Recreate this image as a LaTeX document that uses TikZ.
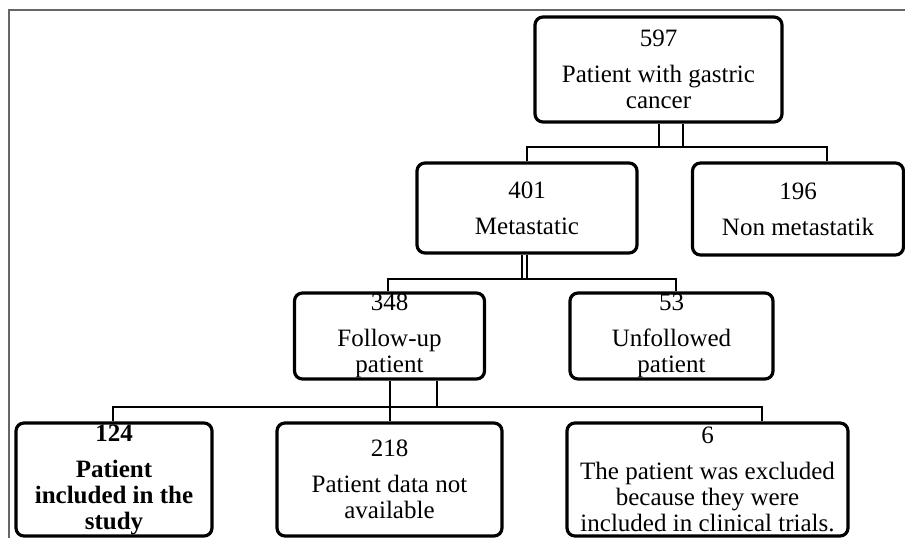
\documentclass[tikz,border=0pt]{standalone}
\usepackage{fontspec}
\setmainfont{Liberation Serif}
\usetikzlibrary{positioning,calc}
\tikzset{
frame line/.style={line width=1pt, color=black!60},
box/.style={draw, line width=1.6pt, rounded corners=4pt, align=center, inner sep=0pt},
link/.style={line width=1pt},
}
\tikzstyle{every node}=[font=\fontsize{12.5}{13}\selectfont]

\begin{document}
\begin{tikzpicture}[x=0.5pt, y=-0.5pt]
    \useasboundingbox (0,0) rectangle (905,538);
    \draw[frame line] (9,538) -- (9,10) -- (905,10);

    \node[box, minimum width=123.5pt, minimum height=52.5pt] (total) at (658.5,69.5)
        {597\\[5pt]Patient with gastric\\cancer};
    \node[box, minimum width=110pt, minimum height=45pt] (meta) at (527,208)
        {401\\[5pt]Metastatic};
    \node[box, minimum width=105.5pt, minimum height=46pt] (nonmeta) at (798,209)
        {196\\[5pt]Non metastatik};
    \node[box, minimum width=95pt, minimum height=43pt] (follow) at (389.5,336)
        {348\\[5pt]Follow-up\\patient};
    \node[box, minimum width=101.5pt, minimum height=43pt] (unfollow) at (671.5,336)
        {53\\[5pt]Unfollowed\\patient};
    \node[box, minimum width=98pt, minimum height=56.5pt, font=\fontsize{12.5}{13}\selectfont\bfseries] (included) at (114,479.5)
        {124\\[5pt]Patient\\included in the\\study};
    \node[box, minimum width=112.5pt, minimum height=56.5pt] (nodata) at (389.5,479.5)
        {218\\[5pt]Patient data not\\available};
    \node[box, minimum width=140.5pt, minimum height=56.5pt] (excluded) at (707.5,479.5)
        {6\\[5pt]The patient was excluded\\because they were\\included in clinical trials.};

    % first split
    \draw[link] (total.south) -- ++(0,23) coordinate (t1);
    \draw[link] ([xshift=12pt]total.south) -- ++(0,23);
    \draw[link] (meta.north) |- (t1) -| ([xshift=14.5pt]nonmeta.north);

    % second split
    \draw[link] ([xshift=-2.5pt]meta.south) -- ++(0,24);
    \draw[link] (meta.south) -- ++(0,24) coordinate (m1);
    \draw[link] ([xshift=-0.75pt]follow.north) |- (m1) -| ([xshift=2.25pt]unfollow.north);

    % third split
    \draw[link] (follow.south) -- (nodata.north);
    \draw[link] ([xshift=23.75pt]follow.south) -- ++(0,26) coordinate (f1);
    \draw[link] ([xshift=-0.5pt]included.north) |- (f1) -| ([xshift=27.25pt]excluded.north);
\end{tikzpicture}
\end{document}
